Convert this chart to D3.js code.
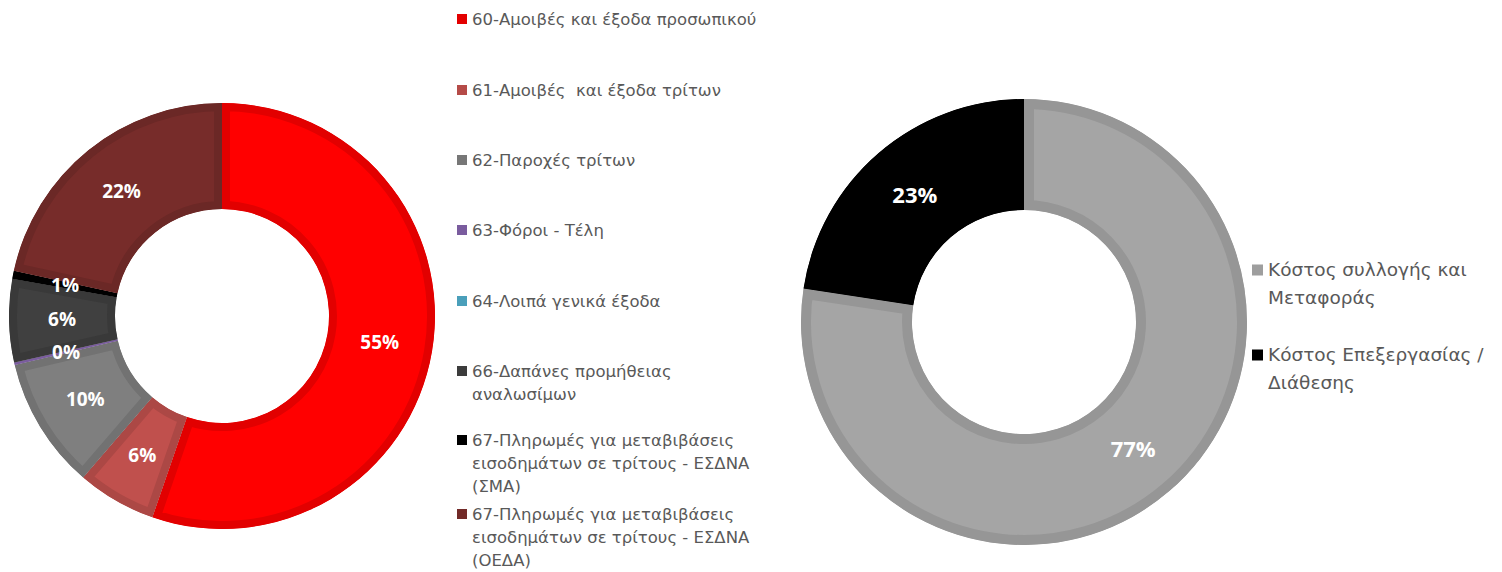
<!DOCTYPE html>
<html>
<head>
<meta charset="utf-8">
<script src="https://cdn.jsdelivr.net/npm/d3@7"></script>
<style>
  html, body { margin: 0; padding: 0; background: #fff; }
  svg { display: block; }
</style>
</head>
<body>
<svg id="chart" width="1502" height="572"></svg>
<script>
// ---------- DATA ----------
const leftCategories = [
  "60-Αμοιβές και έξοδα προσωπικού",
  "61-Αμοιβές  και έξοδα τρίτων",
  "62-Παροχές τρίτων",
  "63-Φόροι - Τέλη",
  "64-Λοιπά γενικά έξοδα",
  "66-Δαπάνες προμήθειας\nαναλωσίμων",
  "67-Πληρωμές για μεταβιβάσεις\nεισοδημάτων σε τρίτους - ΕΣΔΝΑ\n(ΣΜΑ)",
  "67-Πληρωμές για μεταβιβάσεις\nεισοδημάτων σε τρίτους - ΕΣΔΝΑ\n(ΟΕΔΑ)"
];
const leftValues = [55.3, 6.0, 10.0, 0.2, 0, 6.3, 0.6, 21.6];

const rightCategories = [
  "Κόστος συλλογής και\nΜεταφοράς",
  "Κόστος Επεξεργασίας /\nΔιάθεσης"
];
const rightValues = [77.4, 22.6];

// ---------- STYLES ----------
const leftFills   = ["#FF0000", "#C0504D", "#7F7F7F", "#8064A2", "#4BACC6", "#404040", "#000000", "#772C2A"];
const leftBorders = ["#E20000", "#AC4845", "#727272", "#7A5D9E", "#4BACC6", "#393939", "#000000", "#6B2826"];
const leftLegend  = ["#E30000", "#B54B48", "#777777", "#7A5C9E", "#4A9FBA", "#3C3C3C", "#000000", "#722A28"];
const rightFills   = ["#A5A5A5", "#000000"];
const rightBorders = ["#969696", "#000000"];
const rightLegend  = ["#9E9E9E", "#000000"];

const svg = d3.select("#chart");
const defs = svg.append("defs");
const textFont = "'DejaVu Sans', sans-serif";
const labelFont = "'Open Sans', sans-serif";

function donut(opts) {
  const { values, fills, borders, cx, cy, rOuter, rInner, band, labelSize, id } = opts;
  const pie = d3.pie().sort(null).value(d => d)
    .startAngle(0).endAngle(2 * Math.PI);
  const arcs = pie(values);
  const arc = d3.arc().innerRadius(rInner).outerRadius(rOuter);
  const mid = (rInner + rOuter) / 2;
  const labelArc = d3.arc().innerRadius(mid).outerRadius(mid);
  const total = d3.sum(values);
  const g = svg.append("g").attr("transform", `translate(${cx},${cy})`);

  arcs.forEach((a, i) => {
    if (a.value <= 0) return;
    const cid = `${id}-clip-${i}`;
    // clip paths live in the user space of the translated group
    defs.append("clipPath").attr("id", cid)
      .append("path").attr("d", arc(a));
    g.append("path")
      .attr("d", arc(a))
      .attr("fill", fills[i])
      .attr("stroke", borders[i])
      .attr("stroke-width", band * 2)
      .attr("clip-path", `url(#${cid})`);
  });

  arcs.forEach((a, i) => {
    if (a.value <= 0) return;
    const [x, y] = labelArc.centroid(a);
    g.append("text")
      .attr("x", x).attr("y", y)
      .attr("dy", "0.36em")
      .attr("text-anchor", "middle")
      .attr("font-family", labelFont)
      .attr("font-weight", 700)
      .attr("font-size", labelSize)
      .attr("fill", "#FFFFFF")
      .text(Math.round(a.value / total * 100) + "%");
  });
}

donut({ id: "L", values: leftValues, fills: leftFills, borders: leftBorders,
  cx: 222, cy: 316, rOuter: 213, rInner: 107, band: 8, labelSize: 19 });
donut({ id: "R", values: rightValues, fills: rightFills, borders: rightBorders,
  cx: 1024, cy: 322, rOuter: 223, rInner: 112, band: 10, labelSize: 22 });

// ---------- LEGENDS ----------
function legend(opts) {
  const { cats, colors, x, lineH, size, sq, rowY } = opts;
  const g = svg.append("g");
  cats.forEach((c, i) => {
    const lines = c.split("\n");
    const yy = rowY[i];
    g.append("rect")
      .attr("x", x).attr("y", yy - sq / 2)
      .attr("width", sq).attr("height", sq)
      .attr("fill", colors[i]);
    const t = g.append("text")
      .attr("font-family", textFont)
      .attr("font-size", size)
      .attr("fill", "#595959")
      .style("white-space", "pre");
    lines.forEach((ln, k) => {
      t.append("tspan")
        .attr("x", x + sq + 5)
        .attr("y", yy + k * lineH)
        .attr("dy", "0.35em")
        .text(ln);
    });
  });
}

legend({ cats: leftCategories, colors: leftLegend, x: 457, lineH: 23, size: 16.5, sq: 10,
  rowY: [19, 90, 160, 230, 301, 371, 440, 514] });
legend({ cats: rightCategories, colors: rightLegend, x: 1252, lineH: 28, size: 18.5, sq: 11,
  rowY: [270, 355] });
</script>
</body>
</html>
